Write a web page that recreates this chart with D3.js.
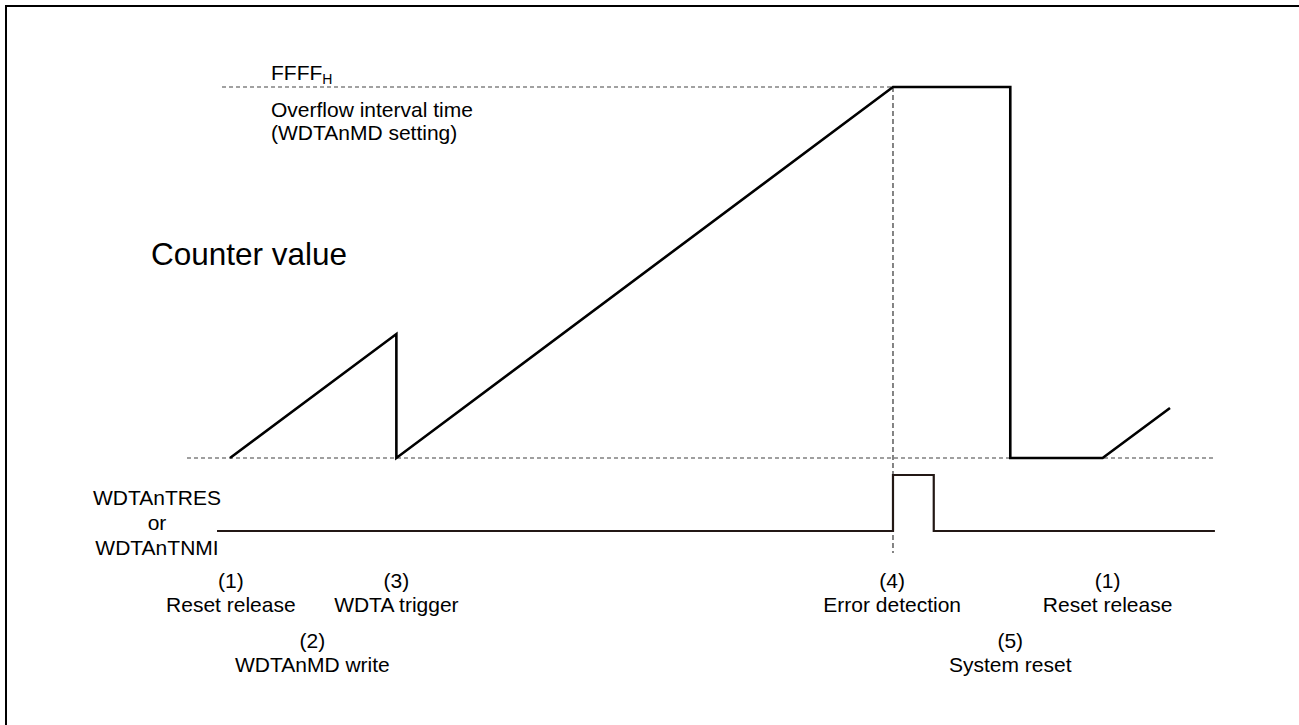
<!DOCTYPE html>
<html><head><meta charset="utf-8">
<script src="https://cdn.jsdelivr.net/npm/d3@7"></script>
<style>
html,body{margin:0;padding:0;background:#fff;}
svg{display:block;font-family:Arial,"Liberation Sans",sans-serif;}
</style></head><body>
<svg id="c" width="1299" height="725"></svg>
<script>
// ---- data ----
const counterTimes  = [0, 20, 20, 79.7, 93.8, 93.8, 104.9, 113];
const counterValues = [0, 21900, 0, 65535, 65535, 0, 0, 8830];
const signalTimes   = [-1.56, 79.7, 79.7, 84.6, 84.6, 118.4];
const signalValues  = [0, 0, 1, 1, 0, 0];
const baselineSpan  = [-5.17, 118.4];
const maxLineSpan   = [-0.96, 79.7];
const errorTime     = 79.7;
const eventNums     = ["(1)", "(3)", "(2)", "(4)", "(5)", "(1)"];
const eventLabels   = ["Reset release", "WDTA trigger", "WDTAnMD write", "Error detection", "System reset", "Reset release"];
const eventTimes    = [0.1, 20, 9.9, 79.6, 93.8, 105.5];
const eventRows     = [0, 0, 1, 0, 1, 0];
const maxLabel      = "FFFF";
const maxSub        = "H";
const maxNote       = ["Overflow interval time", "(WDTAnMD setting)"];
const yTitle        = "Counter value";
const signalNames   = ["WDTAnTRES", "or", "WDTAnTNMI"];

// ---- scales ----
const svg = d3.select("#c");
const x = d3.scaleLinear().domain([0, 113]).range([230, 1170]);
const y = d3.scaleLinear().domain([0, 65535]).range([458, 87]);
const ys = d3.scaleLinear().domain([0, 1]).range([531, 475]);

// frame (top/left)
svg.append("path").attr("d","M6,725V6H1299").attr("fill","none").attr("stroke","#000").attr("stroke-width",2);

// dashed reference lines
svg.append("line").attr("x1",x(baselineSpan[0])).attr("x2",x(baselineSpan[1]))
  .attr("y1",y(0)).attr("y2",y(0)).attr("stroke","#808080").attr("stroke-width",1.5).attr("stroke-dasharray","4,3");
svg.append("line").attr("x1",x(maxLineSpan[0])).attr("x2",x(maxLineSpan[1]))
  .attr("y1",y(65535)).attr("y2",y(65535)).attr("stroke","#444").attr("stroke-width",1.2).attr("stroke-dasharray","4,3");
svg.append("line").attr("x1",x(errorTime)).attr("x2",x(errorTime))
  .attr("y1",y(65535)).attr("y2",553).attr("stroke","#333").attr("stroke-width",1.2).attr("stroke-dasharray","5,3");

// counter line
const cData = counterTimes.map((t,i)=>[t,counterValues[i]]);
svg.append("path").datum(cData)
  .attr("d", d3.line().x(d=>x(d[0])).y(d=>y(d[1])))
  .attr("fill","none").attr("stroke","#000").attr("stroke-width",2.6).attr("stroke-linejoin","miter");

// signal line
const sData = signalTimes.map((t,i)=>[t,signalValues[i]]);
svg.append("path").datum(sData)
  .attr("d", d3.line().x(d=>x(d[0])).y(d=>ys(d[1])))
  .attr("fill","none").attr("stroke","#231815").attr("stroke-width",2.2);

// texts
const fs = 21;
const t1 = svg.append("text").attr("x",271).attr("y",80).attr("font-size",fs).attr("fill","#000");
t1.append("tspan").text(maxLabel);
t1.append("tspan").attr("font-size",14).attr("dy",4).text(maxSub);
svg.selectAll("text.note").data(maxNote).join("text").attr("class","note")
  .attr("x",271).attr("y",(d,i)=>117+i*23).attr("font-size",fs).attr("fill","#000").text(d=>d);

svg.append("text").attr("x",151).attr("y",265).attr("font-size",31.5).attr("fill","#000").text(yTitle);

svg.selectAll("text.sig").data(signalNames).join("text").attr("class","sig")
  .attr("x",157).attr("y",(d,i)=>505+i*25).attr("text-anchor","middle").attr("font-size",fs).attr("fill","#000").text(d=>d);

const ev = svg.selectAll("g.ev").data(eventLabels).join("g").attr("class","ev");
ev.append("text").attr("x",(d,i)=>x(eventTimes[i])).attr("y",(d,i)=>588+eventRows[i]*60)
  .attr("text-anchor","middle").attr("font-size",fs).text((d,i)=>eventNums[i]);
ev.append("text").attr("x",(d,i)=>x(eventTimes[i])).attr("y",(d,i)=>612+eventRows[i]*60)
  .attr("text-anchor","middle").attr("font-size",fs).text(d=>d);
</script></body></html>
